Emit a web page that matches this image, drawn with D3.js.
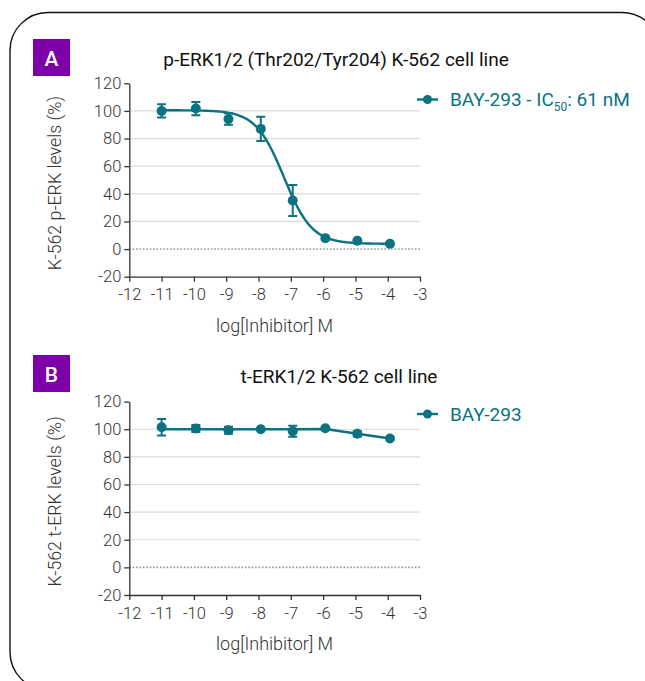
<!DOCTYPE html>
<html><head><meta charset="utf-8">
<script src="https://cdn.jsdelivr.net/npm/d3@7"></script>
<style>html,body{margin:0;padding:0;background:#fff}</style>
</head><body>
<script>
// ---- data ----
const logConc = [-11, -9.94, -8.93, -7.93, -6.94, -5.93, -4.94, -3.93];
const pERK = [100, 101.7, 94.2, 87, 35.1, 7.9, 6.0, 3.8];
const pERKerr = [4.8, 4.8, 4.2, 8.7, 11.2, 0, 0, 0];
const tERK = [101.4, 100.5, 99.3, 100, 98.6, 100.7, 96.7, 93.3];
const tERKerr = [6, 2.5, 2.5, 0, 4, 0, 2, 0];
const tERKfit = [100, 100, 100, 100, 100, 100.2, 96.7, 93.3];
// 4PL fit for p-ERK (IC50 = 61 nM)
const fitTop = 100.5, fitBottom = 3.8, fitIC50 = 61e-9, fitHill = 1;
const xTicks = [-12, -11, -10, -9, -8, -7, -6, -5, -4, -3];
const yTicks = [-20, 0, 20, 40, 60, 80, 100, 120];
const gridTicks = [20, 40, 60, 80, 100];

const W = 645, H = 681;
const teal = "#0b7282";
const font = "Roboto, 'Open Sans', sans-serif";
const svg = d3.select("body").append("svg").attr("width", W).attr("height", H);

svg.append("rect").attr("x", 10).attr("y", 12.5).attr("width", 650).attr("height", 677.5)
  .attr("rx", 38).attr("fill", "none").attr("stroke", "#111").attr("stroke-width", 1.4);

function panel(o) {
  const x = d3.scaleLinear().domain([-12, -3]).range([129.3, 420]);
  const y = d3.scaleLinear().domain([-20, 120]).range([o.bottom, o.bottom - 193.4]);
  const g = svg.append("g");
  // badge
  g.append("rect").attr("x", 33).attr("y", o.badgeY).attr("width", 37).attr("height", 37).attr("fill", "#7e00a8");
  g.append("text").attr("x", 51.5).attr("y", o.badgeY + 26.5).attr("text-anchor", "middle")
    .attr("fill", "#fff").attr("font-family", font).attr("font-weight", 500).attr("font-size", 21).text(o.badge);
  // title
  g.append("text").attr("x", o.titleX).attr("y", o.titleY).attr("text-anchor", "middle")
    .attr("font-family", font).attr("font-size", 19).attr("fill", "#111").text(o.title);
  // grid
  g.selectAll(".grid").data(gridTicks).join("line")
    .attr("x1", x(-12)).attr("x2", x(-3)).attr("y1", d => y(d)).attr("y2", d => y(d))
    .attr("stroke", "#dadada").attr("stroke-width", 1.2);
  g.append("line").attr("x1", x(-12)).attr("x2", x(-3)).attr("y1", y(0)).attr("y2", y(0))
    .attr("stroke", "#8a9aa0").attr("stroke-width", 1.6).attr("stroke-dasharray", "1.6,1.8");
  // axes
  const ax = g.append("g").attr("transform", `translate(0,${y(-20)})`)
    .call(d3.axisBottom(x).tickValues(xTicks).tickFormat(d => String(d)).tickSize(5).tickSizeOuter(0).tickPadding(7));
  const ay = g.append("g").attr("transform", `translate(${x(-12)},0)`)
    .call(d3.axisLeft(y).tickValues(yTicks).tickFormat(d => String(d)).tickSize(5).tickSizeOuter(0).tickPadding(3));
  [ax, ay].forEach(a => {
    a.select(".domain").attr("stroke", "#333").attr("stroke-width", 1.3);
    a.selectAll(".tick line").attr("stroke", "#333").attr("stroke-width", 1.3);
    a.selectAll("text").attr("font-family", font).attr("font-weight", 300).attr("font-size", 16.5).attr("fill", "#333");
  });
  // axis labels
  g.append("text").attr("x", 274.6).attr("y", y(-20) + 55).attr("text-anchor", "middle")
    .attr("font-family", font).attr("font-weight", 300).attr("font-size", 18).attr("fill", "#333").text("log[Inhibitor] M");
  g.append("text").attr("transform", `translate(61,${(y(-20) + y(120)) / 2 + 3}) rotate(-90)`)
    .attr("text-anchor", "middle").attr("font-family", font).attr("font-weight", 300).attr("font-size", 17.8).attr("fill", "#333").text(o.ylabel);
  // curve
  g.append("path").datum(o.curve).attr("fill", "none").attr("stroke", teal).attr("stroke-width", 2.4)
    .attr("d", d3.line().x(d => x(d[0])).y(d => y(d[1])).curve(o.curveType));
  // error bars
  const pts = logConc.map((c, i) => ({c, v: o.vals[i], e: o.errs[i]})).filter(d => d.e > 0);
  g.selectAll(".eb").data(pts).join("path").attr("fill", "none").attr("stroke", teal).attr("stroke-width", 2)
    .attr("d", d => `M${x(d.c)},${y(d.v - d.e)}V${y(d.v + d.e)}M${x(d.c) - 4.5},${y(d.v - d.e)}h9M${x(d.c) - 4.5},${y(d.v + d.e)}h9`);
  g.selectAll(".pt").data(logConc).join("circle").attr("cx", d => x(d)).attr("cy", (d, i) => y(o.vals[i]))
    .attr("r", 5).attr("fill", teal);
  // legend
  const ly = o.legendY;
  g.append("line").attr("x1", 417).attr("x2", 438).attr("y1", ly).attr("y2", ly).attr("stroke", teal).attr("stroke-width", 2.4);
  g.append("circle").attr("cx", 427.5).attr("cy", ly).attr("r", 4.5).attr("fill", teal);
  const lt = g.append("text").attr("x", 450).attr("y", ly + 6.5).attr("font-family", font).attr("font-size", 19).attr("fill", teal);
  o.legend(lt);
  return g;
}

const curvePts = d3.range(-11, -3.92, 0.02).map(v => [v, fitBottom + (fitTop - fitBottom) / (1 + Math.pow(10, (v - Math.log10(fitIC50)) * fitHill))]);

panel({bottom: 276.7, badgeY: 39, badge: "A", titleX: 336, titleY: 66, title: "p-ERK1/2 (Thr202/Tyr204) K-562 cell line",
  ylabel: "K-562 p-ERK levels (%)", vals: pERK, errs: pERKerr, curve: curvePts, curveType: d3.curveLinear, legendY: 99.5,
  legend: t => { t.append("tspan").text("BAY-293 - IC"); t.append("tspan").attr("font-size", 12).attr("dy", 5).text("50");
    t.append("tspan").attr("dy", -5).text(": 61 nM"); }});
panel({bottom: 595, badgeY: 355, badge: "B", titleX: 339, titleY: 383, title: "t-ERK1/2 K-562 cell line",
  ylabel: "K-562 t-ERK levels (%)", vals: tERK, errs: tERKerr, curve: logConc.map((c, i) => [c, tERKfit[i]]), curveType: d3.curveLinear, legendY: 414,
  legend: t => t.text("BAY-293")});
</script>
</body></html>
